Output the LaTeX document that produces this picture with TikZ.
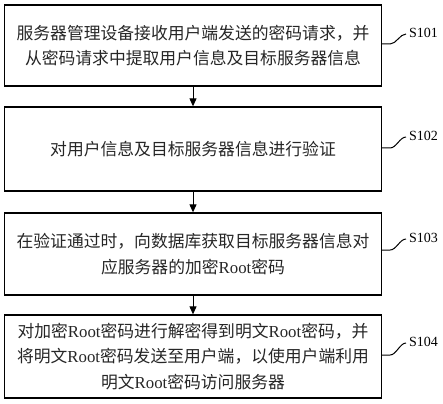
\documentclass[tikz,border=0pt]{standalone}
\usepackage{fontspec}
\setmainfont{Noto Sans CJK SC}
\newfontfamily\latinserif{Liberation Serif}
\newcommand{\rt}{{\latinserif Root}}
\usetikzlibrary{arrows.meta,calc}
\begin{document}
\begin{tikzpicture}[x=1pt,y=-1pt,
  stepbox/.style={draw=black, line width=1.3pt, minimum width=377pt, inner sep=0pt, align=center,
    font=\fontsize{16.8}{25.5}\selectfont, text=black!85},
  flow/.style={draw=black, line width=1pt, -{Triangle[length=8pt,width=7pt]}},
  tag/.style={font=\latinserif\fontsize{14}{16}\selectfont, anchor=west, inner sep=0pt},
  lead/.style={draw=black, line width=1pt}]
\useasboundingbox (0,0) rectangle (443,403);
\node[stepbox, minimum height=81pt] (b1) at (193,45.5) {服务器管理设备接收用户端发送的密码请求，并\\从密码请求中提取用户信息及目标服务器信息};
\node[stepbox, minimum height=84pt] (b2) at (193,149) {对用户信息及目标服务器信息进行验证};
\node[stepbox, minimum height=82pt] (b3) at (193,254) {在验证通过时，向数据库获取目标服务器信息对\\应服务器的加密\rt 密码};
\node[stepbox, minimum height=83pt] (b4) at (193,356.5) {对加密\rt 密码进行解密得到明文\rt 密码，并\\将明文\rt 密码发送至用户端，以使用户端利用\\明文\rt 密码访问服务器};
\draw[flow] (b1.south) -- (b2.north);
\draw[flow] (b2.south) -- (b3.north);
\draw[flow] (b3.south) -- (b4.north);
\node[tag] (t1) at (409,33) {S101};
\node[tag] (t2) at (409,136) {S102};
\node[tag] (t3) at (409,238) {S103};
\node[tag] (t4) at (409,342) {S104};
\coordinate (c1) at (b1.east |- 0,44);
\coordinate (c2) at (b2.east |- 0,148);
\coordinate (c3) at (b3.east |- 0,250);
\coordinate (c4) at (b4.east |- 0,355);
\foreach \c/\t in {c1/t1,c2/t2,c3/t3,c4/t4}{
  \draw[lead] (\c) -- ++(8,0) .. controls +(6,0) and +(-6,0) .. ($(\t.west)+(-3,1)$);
}
\end{tikzpicture}
\end{document}
